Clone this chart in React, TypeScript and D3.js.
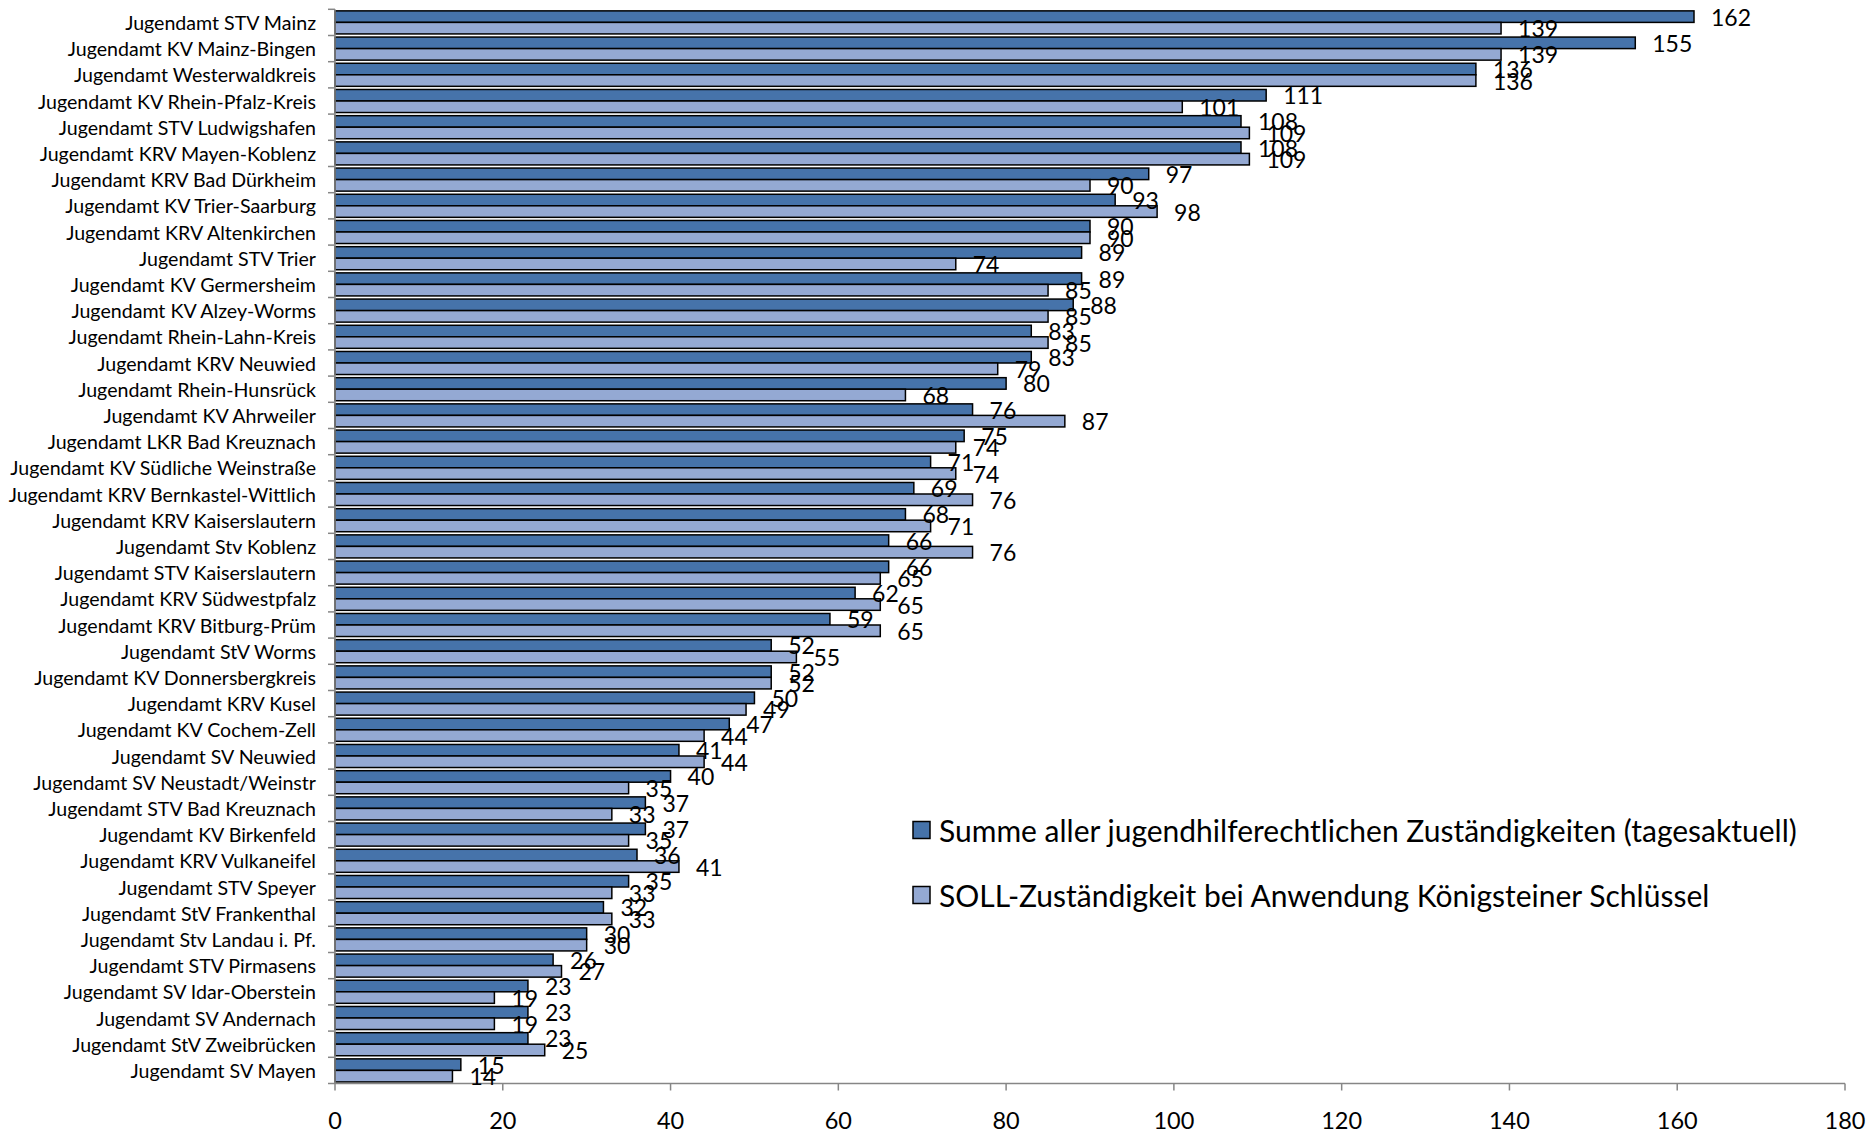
import * as d3 from "d3";

const categories = [
  "Jugendamt STV Mainz",
  "Jugendamt KV Mainz-Bingen",
  "Jugendamt Westerwaldkreis",
  "Jugendamt KV Rhein-Pfalz-Kreis",
  "Jugendamt STV Ludwigshafen",
  "Jugendamt KRV Mayen-Koblenz",
  "Jugendamt KRV Bad Dürkheim",
  "Jugendamt KV Trier-Saarburg",
  "Jugendamt KRV Altenkirchen",
  "Jugendamt STV Trier",
  "Jugendamt KV Germersheim",
  "Jugendamt KV Alzey-Worms",
  "Jugendamt Rhein-Lahn-Kreis",
  "Jugendamt KRV Neuwied",
  "Jugendamt Rhein-Hunsrück",
  "Jugendamt KV Ahrweiler",
  "Jugendamt LKR Bad Kreuznach",
  "Jugendamt KV Südliche Weinstraße",
  "Jugendamt KRV Bernkastel-Wittlich",
  "Jugendamt KRV Kaiserslautern",
  "Jugendamt Stv Koblenz",
  "Jugendamt STV Kaiserslautern",
  "Jugendamt KRV Südwestpfalz",
  "Jugendamt KRV Bitburg-Prüm",
  "Jugendamt StV Worms",
  "Jugendamt KV Donnersbergkreis",
  "Jugendamt KRV Kusel",
  "Jugendamt KV Cochem-Zell",
  "Jugendamt SV Neuwied",
  "Jugendamt SV Neustadt/Weinstr",
  "Jugendamt STV Bad Kreuznach",
  "Jugendamt KV Birkenfeld",
  "Jugendamt KRV Vulkaneifel",
  "Jugendamt STV Speyer",
  "Jugendamt StV Frankenthal",
  "Jugendamt Stv Landau i. Pf.",
  "Jugendamt STV Pirmasens",
  "Jugendamt SV Idar-Oberstein",
  "Jugendamt SV Andernach",
  "Jugendamt StV Zweibrücken",
  "Jugendamt SV Mayen",
];

const summeValues = [
  162, 155, 136, 111, 108, 108, 97, 93, 90, 89, 89, 88, 83, 83, 80, 76, 75, 71,
  69, 68, 66, 66, 62, 59, 52, 52, 50, 47, 41, 40, 37, 37, 36, 35, 32, 30, 26, 23,
  23, 23, 15,
];

const sollValues = [
  139, 139, 136, 101, 109, 109, 90, 98, 90, 74, 85, 85, 85, 79, 68, 87, 74, 74,
  76, 71, 76, 65, 65, 65, 55, 52, 49, 44, 44, 35, 33, 35, 41, 33, 33, 30, 27, 19,
  19, 25, 14,
];

const xTicks = [0, 20, 40, 60, 80, 100, 120, 140, 160, 180];

const seriesNames = [
  "Summe aller jugendhilferechtlichen Zuständigkeiten (tagesaktuell)",
  "SOLL-Zuständigkeit bei Anwendung Königsteiner Schlüssel",
];

const colors = ["#4673AA", "#94A9D3"];
const axisColor = "#868686";
const font = "Lato, 'Open Sans', sans-serif";

const width = 1872;
const height = 1134;

export default function App() {
  const x = d3.scaleLinear().domain([0, 180]).range([335, 1845]);
  const y = d3
    .scaleBand<string>()
    .domain(categories)
    .range([9.3, 1083.5])
    .paddingInner(0.12)
    .paddingOuter(0.06);
  const inner = d3
    .scaleBand<number>()
    .domain([0, 1])
    .range([0, y.bandwidth()]);

  const series = [summeValues, sollValues];
  const [top, bottom] = y.range();
  const step = y.step();
  const boundaries = d3.range(categories.length + 1).map((i) => top + i * step);

  return (
    <div style={{ position: "absolute", left: 0, top: 0 }}>
      <svg width={width} height={height} style={{ display: "block", background: "#fff" }}>
        {/* bars */}
        {series.map((vals, s) =>
          categories.map((c, i) => (
            <rect
              key={`b${s}-${i}`}
              x={x(0)}
              y={y(c)! + inner(s)!}
              width={x(vals[i]) - x(0)}
              height={inner.bandwidth()}
              fill={colors[s]}
              stroke="#000"
              strokeWidth={1.5}
            />
          )),
        )}

        {/* left axis */}
        <line x1={x(0)} x2={x(0)} y1={top} y2={bottom} stroke={axisColor} strokeWidth={1.5} />
        {boundaries.map((b, i) => (
          <line key={`t${i}`} x1={x(0) - 7} x2={x(0)} y1={b} y2={b} stroke={axisColor} strokeWidth={1.5} />
        ))}
        {categories.map((c) => (
          <text
            key={c}
            x={316}
            y={y(c)! + y.bandwidth() / 2}
            textAnchor="end"
            dominantBaseline="central"
            fontFamily={font}
            fontSize={19.6}
            fill="#000"
          >
            {c}
          </text>
        ))}

        {/* bottom axis */}
        <line x1={x(0)} x2={x(180)} y1={bottom} y2={bottom} stroke={axisColor} strokeWidth={1.5} />
        {xTicks.map((t) => (
          <g key={t}>
            <line x1={x(t)} x2={x(t)} y1={bottom} y2={bottom + 7} stroke={axisColor} strokeWidth={1.5} />
            <text
              x={x(t)}
              y={1129}
              textAnchor="middle"
              fontFamily={font}
              fontSize={23.5}
              fill="#000"
            >
              {t}
            </text>
          </g>
        ))}

        {/* value labels */}
        {series.map((vals, s) =>
          categories.map((c, i) => (
            <text
              key={`l${s}-${i}`}
              x={x(vals[i]) + 17}
              y={y(c)! + inner(s)! + inner.bandwidth() / 2}
              dominantBaseline="central"
              fontFamily={font}
              fontSize={23}
              fill="#000"
            >
              {vals[i]}
            </text>
          )),
        )}

        {/* legend */}
        {seriesNames.map((name, s) => (
          <g key={name} transform={`translate(913,${830 + s * 65})`}>
            <rect x={0} y={-8.5} width={17} height={17} fill={colors[s]} stroke="#000" strokeWidth={1.5} />
            <text
              x={26}
              y={0}
              dominantBaseline="central"
              fontFamily={font}
              fontSize={30}
              fill="#000"
            >
              {name}
            </text>
          </g>
        ))}
      </svg>
    </div>
  );
}
